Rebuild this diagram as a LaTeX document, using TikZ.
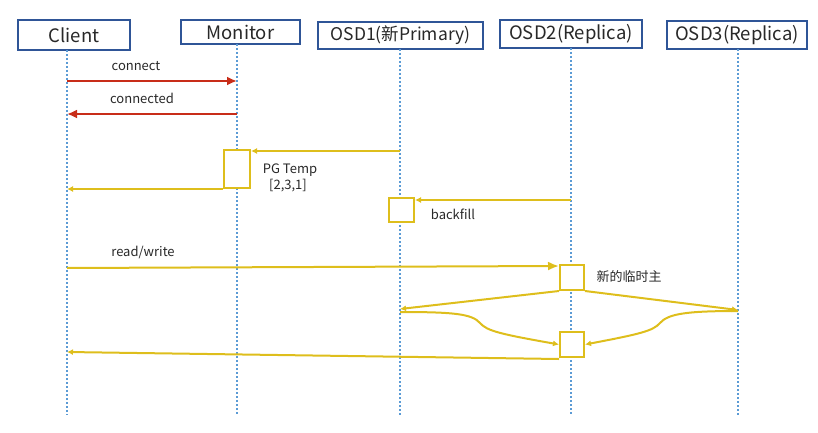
\documentclass[tikz,border=0pt]{standalone}
\usepackage{fontspec}
\setmainfont{Noto Sans CJK SC}
\usetikzlibrary{arrows.meta}
\definecolor{hdr}{RGB}{47,85,151}
\definecolor{life}{RGB}{91,155,213}
\definecolor{redc}{RGB}{200,45,25}
\definecolor{yel}{RGB}{222,190,28}
\definecolor{txt}{RGB}{40,40,40}
\begin{document}
\begin{tikzpicture}[x=1pt,y=-1pt,
  hdrbox/.style={draw=hdr, line width=1.7pt, fill=white, inner sep=0pt, text=txt,
    font=\fontsize{18.5}{20}\selectfont},
  lifeline/.style={draw=life, line width=1.2pt, dash pattern=on 2pt off 2pt},
  actbox/.style={draw=yel, line width=2pt, fill=white, inner sep=0pt},
  redmsg/.style={draw=redc, line width=2.4pt, -{Latex[length=10pt,width=9pt]}},
  yelmsg/.style={draw=yel, line width=2pt, -{Latex[length=6pt,width=6pt]}},
  lbl/.style={text=txt, inner sep=0pt, font=\fontsize{13}{15}\selectfont}
]
\useasboundingbox (0,0) rectangle (818,433);

% header boxes
\node[hdrbox, minimum width=112pt, minimum height=30pt] (client) at (74,35) {Client};
\node[hdrbox, minimum width=119pt, minimum height=24pt] (monitor) at (240.5,32) {Monitor};
\node[hdrbox, minimum width=165pt, minimum height=27pt, font=\fontsize{17.5}{20}\selectfont] (osd1) at (400.5,35.5) {OSD1(新Primary)};
\node[hdrbox, minimum width=142pt, minimum height=28pt] (osd2) at (571,34) {OSD2(Replica)};
\node[hdrbox, minimum width=140pt, minimum height=28pt] (osd3) at (737,35) {OSD3(Replica)};

% lifeline ends
\coordinate (clE) at (67,415);
\coordinate (moE) at (237,415);
\coordinate (o1E) at (400,415);
\coordinate (o2E) at (571,415);
\coordinate (o3E) at (738,415);
\draw[lifeline] (67,50) -- (clE);
\draw[lifeline] (237,44) -- (moE);
\draw[lifeline] (400,49) -- (o1E);
\draw[lifeline] (571,48) -- (o2E);
\draw[lifeline] (738,49) -- (o3E);

% activation boxes
\node[actbox, minimum width=26pt, minimum height=38pt] (mact) at (237,169) {};
\node[actbox, minimum width=25pt, minimum height=24pt] (o1act) at (401.5,210) {};
\node[actbox, minimum width=24pt, minimum height=25pt] (o2a) at (572,277.5) {};
\node[actbox, minimum width=24pt, minimum height=25pt] (o2b) at (572,344.5) {};

% message points
\coordinate (c81) at (67,81);
\coordinate (m81) at (237,81);
\coordinate (c114) at (67,114);
\coordinate (m114) at (237,114);
\coordinate (o151) at (400,151);
\coordinate (c189) at (67,189);
\coordinate (o2y200) at (571,200);
\coordinate (c268) at (67,268);
\coordinate (o2in) at (559,266);
\coordinate (o1y309) at (400,309);
\coordinate (o3y310) at (738,310);
\coordinate (o1y312) at (400,312);
\coordinate (o3y311) at (738,311);
\coordinate (c352) at (67,352);

% messages
\draw[redmsg] (c81) -- (m81);
\draw[redmsg] (m114) -- (c114);
\draw[yelmsg] (o151) -- (o151 -| mact.east);
\draw[yelmsg] (mact.south west) -- (c189);
\draw[yelmsg] (o2y200) -- (o2y200 -| o1act.east);
\draw[draw=yel, line width=2pt, -{Latex[length=11pt,width=9pt]}] (c268) -- (o2in);
\draw[yelmsg] (o2a.south west) -- (o1y309);
\draw[yelmsg] (o2a.south east) -- (o3y310);
\draw[yelmsg] (o1y312) .. controls (455,312) and (472,314) .. (480,323)
  .. controls (487,331) and (500,334) .. (o2b.west);
\draw[yelmsg] (o3y311) .. controls (685,311) and (668,314) .. (660,323)
  .. controls (653,331) and (640,334) .. (o2b.east);
\draw[yelmsg] ([yshift=-1pt]o2b.south west) -- (c352);

% labels
\node[lbl] (lconnect) at (136,66) {connect};
\node[lbl] (lconnected) at (142,98) {connected};
\node[lbl] (lpg) at (290,170) {PG Temp};
\node[lbl] (lpg2) at (288,186) {[2,3,1]};
\node[lbl] (lback) at (453,214) {backfill};
\node[lbl] (lrw) at (143,252) {read/write};
\node[lbl] (lnew) at (629,277) {新的临时主};
\end{tikzpicture}
\end{document}
